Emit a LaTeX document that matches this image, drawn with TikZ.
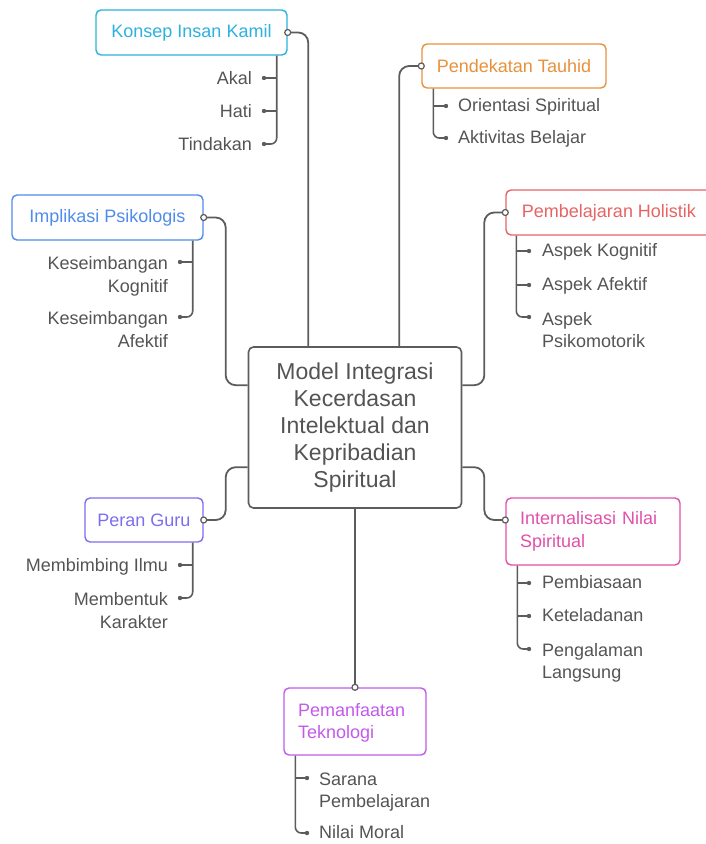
\documentclass[tikz,border=0pt]{standalone}
\usepackage{fontspec}
\setmainfont{Liberation Sans}
\definecolor{cKonsep}{HTML}{2CB2DE}
\definecolor{cTauhid}{HTML}{E8913C}
\definecolor{cImpl}{HTML}{508CEB}
\definecolor{cHol}{HTML}{E66464}
\definecolor{cGuru}{HTML}{7D6EF0}
\definecolor{cInt}{HTML}{E250AA}
\definecolor{cTek}{HTML}{C35AEB}
\definecolor{lineg}{HTML}{5C5C5C}
\definecolor{txtg}{HTML}{545454}
\begin{document}
\begin{tikzpicture}[x=1pt,y=-1pt,
  box/.style={draw, rounded corners=5pt, line width=1.4pt, fill=white, inner sep=0pt,
    font=\fontsize{18}{22.5}\selectfont},
  central/.style={draw=lineg, rounded corners=5pt, line width=1.6pt, fill=white, inner sep=0pt,
    align=center, text=txtg, font=\fontsize{23}{27}\selectfont},
  conn/.style={draw=lineg, line width=1.8pt, rounded corners=10pt},
  br/.style={draw=lineg, line width=1.6pt, rounded corners=6pt},
  port/.style={draw=lineg, fill=white, line width=1.2pt},
  dotc/.style={fill=lineg},
  lblR/.style={anchor=north east, inner sep=0pt, align=right, text=txtg,
    font=\fontsize{18}{22.5}\selectfont, execute at begin node=\strut},
  lblL/.style={anchor=north west, inner sep=0pt, align=left, text=txtg,
    font=\fontsize{18}{22}\selectfont, execute at begin node=\strut}
]
\useasboundingbox (0,0) rectangle (706,844);

% central
\node[central, minimum width=213pt, minimum height=161pt] (central) at (355,427.5)
  {Model Integrasi\\Kecerdasan\\Intelektual dan\\Kepribadian\\Spiritual};

% main boxes
\node[box, draw=cKonsep, text=cKonsep, minimum width=191pt, minimum height=45pt] (konsep) at (191.5,32.5) {Konsep Insan Kamil};
\node[box, draw=cTauhid, text=cTauhid, minimum width=184pt, minimum height=44pt] (tauhid) at (514,66) {Pendekatan Tauhid};
\node[box, draw=cImpl, text=cImpl, minimum width=191pt, minimum height=45pt] (impl) at (107.5,217.5) {Implikasi Psikologis};
\node[box, draw=cHol, text=cHol, minimum width=206pt, minimum height=45pt] (hol) at (609,212.5) {Pembelajaran Holistik};
\node[box, draw=cGuru, text=cGuru, minimum width=118pt, minimum height=44pt] (guru) at (144,520) {Peran Guru};
\node[box, draw=cInt, text=cInt, text width=146pt, inner xsep=14pt, align=left, minimum height=67pt] (intern) at (593,531.5) {Internalisasi Nilai\\Spiritual};
\node[box, draw=cTek, text=cTek, text width=114pt, inner xsep=14pt, align=left, minimum height=67pt,
  execute at begin node=\rule{0pt}{16pt}] (tek) at (355,721.5) {Pemanfaatan\\Teknologi};

% anchor points on central box
\coordinate (cT1) at ([xshift=60.5pt]central.north west);
\coordinate (cT2) at ([xshift=151.5pt]central.north west);
\coordinate (cL1) at ([yshift=-39pt]central.north west);
\coordinate (cR1) at ([yshift=-39pt]central.north east);
\coordinate (cL2) at ([yshift=-121pt]central.north west);
\coordinate (cR2) at ([yshift=-121pt]central.north east);
\coordinate (pInt) at ([yshift=11.5pt]intern.west);

% connectors
\draw[conn] (konsep.east) -| (cT1);
\draw[conn] (tauhid.west) -| (cT2);
\draw[conn] (impl.east) -- ++(22,0) |- (cL1);
\draw[conn] (hol.west) -- ++(-21,0) |- (cR1);
\draw[conn] (guru.east) -- ++(22,0) |- (cL2);
\draw[conn] (pInt) -- ++(-21,0) |- (cR2);
\draw[conn] (central.south) -- (tek.north);

\draw[port] (konsep.east) circle (3pt);
\draw[port] (tauhid.west) circle (3pt);
\draw[port] (impl.east) circle (3pt);
\draw[port] (hol.west) circle (3pt);
\draw[port] (guru.east) circle (3pt);
\draw[port] (pInt) circle (3pt);
\draw[port] (tek.north) circle (3pt);

% ---- Konsep Insan Kamil children
\coordinate (kb) at ([xshift=-11pt]konsep.south east);
\coordinate (kd1) at (264,78);
\coordinate (kd2) at (264,111);
\coordinate (kd3) at (264,144);
\draw[br] (kb) |- (kd3);
\draw[br] (kb |- kd1) -- (kd1);
\draw[br] (kb |- kd2) -- (kd2);
\foreach \d in {kd1,kd2,kd3} \fill[dotc] (\d) circle (2.2pt);
\node[lblR] (k1) at (252,68.25) {Akal};
\node[lblR] (k2) at (252,101.25) {Hati};
\node[lblR] (k3) at (252,134.25) {Tindakan};

% ---- Pendekatan Tauhid children
\coordinate (tb) at ([xshift=12pt]tauhid.south west);
\coordinate (td1) at (446,106);
\coordinate (td2) at (446,138);
\draw[br] (tb) |- (td2);
\draw[br] (tb |- td1) -- (td1);
\foreach \d in {td1,td2} \fill[dotc] (\d) circle (2.2pt);
\node[lblL] (t1) at (458,96.25) {Orientasi Spiritual};
\node[lblL] (t2) at (458,128.25) {Aktivitas Belajar};

% ---- Implikasi Psikologis children
\coordinate (ib) at ([xshift=-11pt]impl.south east);
\coordinate (id1) at (180,262);
\coordinate (id2) at (180,317);
\draw[br] (ib) |- (id2);
\draw[br] (ib |- id1) -- (id1);
\foreach \d in {id1,id2} \fill[dotc] (\d) circle (2.2pt);
\node[lblR] (i1) at (168,256.5) {Keseimbangan\\Kognitif};
\node[lblR] (i2) at (168,311.5) {Keseimbangan\\Afektif};

% ---- Pembelajaran Holistik children
\coordinate (hb) at ([xshift=11pt]hol.south west);
\coordinate (hd1) at (529,251);
\coordinate (hd2) at (529,285);
\coordinate (hd3) at (529,317);
\draw[br] (hb) |- (hd3);
\draw[br] (hb |- hd1) -- (hd1);
\draw[br] (hb |- hd2) -- (hd2);
\foreach \d in {hd1,hd2,hd3} \fill[dotc] (\d) circle (2.2pt);
\node[lblL] (h1) at (542,241.25) {Aspek Kognitif};
\node[lblL] (h2) at (542,275.25) {Aspek Afektif};
\node[lblL] (h3) at (542,312.5) {Aspek\\Psikomotorik};

% ---- Peran Guru children
\coordinate (gb) at ([xshift=-11pt]guru.south east);
\coordinate (gd1) at (180,565);
\coordinate (gd2) at (180,598);
\draw[br] (gb) |- (gd2);
\draw[br] (gb |- gd1) -- (gd1);
\foreach \d in {gd1,gd2} \fill[dotc] (\d) circle (2.2pt);
\node[lblR] (g1) at (168,555.25) {Membimbing Ilmu};
\node[lblR] (g2) at (168,592.5) {Membentuk\\Karakter};

% ---- Internalisasi Nilai Spiritual children
\coordinate (nb) at ([xshift=12pt]intern.south west);
\coordinate (nd1) at (529,583);
\coordinate (nd2) at (529,616);
\coordinate (nd3) at (529,649);
\draw[br] (nb) |- (nd3);
\draw[br] (nb |- nd1) -- (nd1);
\draw[br] (nb |- nd2) -- (nd2);
\foreach \d in {nd1,nd2,nd3} \fill[dotc] (\d) circle (2.2pt);
\node[lblL] (n1) at (542,573.25) {Pembiasaan};
\node[lblL] (n2) at (542,606.25) {Keteladanan};
\node[lblL] (n3) at (542,643.5) {Pengalaman\\Langsung};

% ---- Pemanfaatan Teknologi children
\coordinate (eb) at ([xshift=12pt]tek.south west);
\coordinate (ed1) at (307,778);
\coordinate (ed2) at (307,833);
\draw[br] (eb) |- (ed2);
\draw[br] (eb |- ed1) -- (ed1);
\foreach \d in {ed1,ed2} \fill[dotc] (\d) circle (2.2pt);
\node[lblL] (e1) at (319,772.5) {Sarana\\Pembelajaran};
\node[lblL] (e2) at (319,823.25) {Nilai Moral};
\end{tikzpicture}
\end{document}
